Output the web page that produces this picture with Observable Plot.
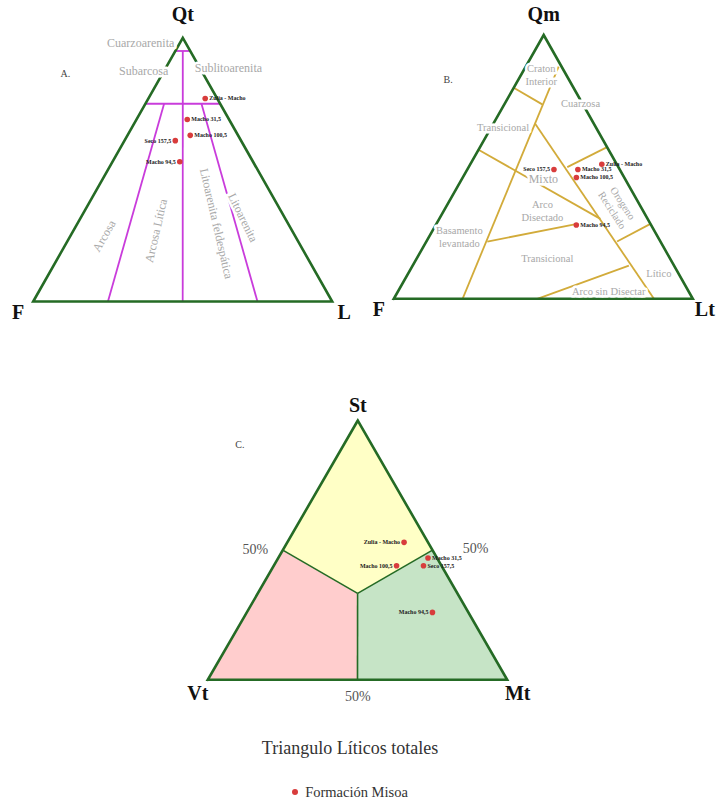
<!DOCTYPE html>
<html><head><meta charset="utf-8">
<script src="https://cdn.jsdelivr.net/npm/d3@7"></script>
<script src="https://cdn.jsdelivr.net/npm/@observablehq/plot@0.6"></script>
<style>
body{margin:0;background:#fff;font-family:"Liberation Serif","Times New Roman",serif;width:718px;}
#chart svg{display:block;}
#title{margin-top:8px;height:20px;line-height:20px;font-size:18px;color:#333;text-align:center;padding-right:18px;}
#legend{margin-top:25px;height:18px;line-height:18px;font-size:14.5px;color:#333;display:flex;justify-content:center;align-items:center;gap:7px;padding-right:18px;}
#legend .dot{display:inline-block;width:6px;height:6px;border-radius:50%;background:#d83c3c;}
</style></head>
<body>
<div id="chart"></div>
<div id="title"></div>
<div id="legend"></div>
<script>
// ---------- data ----------
const chartTitle = "Triangulo Líticos totales";
const legendLabel = "Formación Misoa";
const samples = ["Zulia - Macho", "Macho 31,5", "Macho 100,5", "Seco 157,5", "Macho 94,5"];

// A. Qt - F - L (Folk)
const qtflQt = [77, 69, 63, 61, 53];
const qtflF  = [4, 14, 16, 22, 24.5];
const qtflL  = [19, 17, 21, 17, 22.5];
const labelSideA = ["right", "right", "right", "left", "left"];

// B. Qm - F - Lt (Dickinson)
const qmfltQm = [51, 49, 46, 49, 28];
const qmfltF  = [5, 14, 16, 22, 25];
const qmfltLt = [44, 37, 38, 29, 47];
const labelSideB = ["right", "right", "right", "left", "right"];

// C. St - Vt - Mt
const stvtmtSt = [53, 47, 44, 44, 26];
const stvtmtVt = [8, 3, 15, 6, 12];
const stvtmtMt = [39, 50, 41, 50, 62];
const labelSideC = ["left", "right", "left", "right", "left"];

// corner names
const cornersA = ["Qt", "F", "L"];
const cornersB = ["Qm", "F", "Lt"];
const cornersC = ["St", "Vt", "Mt"];
const panelNames = ["A.", "B.", "C."];

// Folk field boundaries (Qt,F,L -> Qt,F,L)
const folkLines = [
  [95, 5, 0, 95, 0, 5],
  [75, 25, 0, 75, 0, 25],
  [95, 2.5, 2.5, 0, 50, 50],
  [75, 18.75, 6.25, 0, 75, 25],
  [75, 6.25, 18.75, 0, 25, 75]
];
const folkNames = ["Cuarzoarenita", "Subarcosa", "Sublitoarenita", "Arcosa", "Arcosa Lítica", "Litoarenita feldespática", "Litoarenita"];
const folkPos = [[98.2, 15, -13.2], [87.6, 19.3, -6.9], [88.7, -9.6, 20.9], [25, 64, 11], [26.9, 45.7, 27.4], [29.6, 23.7, 46.7], [31.9, 13.7, 54.4]];
const folkRot = [0, 0, 0, -60, -77, 77, 64];

// Dickinson field boundaries (Qm,F,Lt -> Qm,F,Lt)
const dickLines = [
  [88, 1, 11, 0, 77, 23],
  [80, 20, 0, 73.7, 13.6, 12.7],
  [56.5, 43.5, 0, 30.3, 15.8, 53.9],
  [66.3, 19.6, 14.1, 0, 13, 87],
  [49.9, 17.1, 33, 57.5, 0, 42.5],
  [21.7, 57.9, 20.4, 28.4, 24.5, 47.1],
  [21.7, 14.5, 63.8, 28.4, 0, 71.6],
  [0, 52, 48, 12.6, 15.1, 72.3]
];
const dickNames = ["Craton\nInterior", "Cuarzosa", "Transicional", "Mixto", "Arco\nDisectado", "Orogeno\nReciclado", "Basamento\nlevantado", "Transicional", "Lítico", "Arco sin Disectar"];
const dickPos = [[85, 8.3, 6.7], [74.1, 0.6, 25.3], [65.3, 30.9, 3.8], [45.5, 27.3, 27.2], [33.5, 33.6, 32.9], [35, 7.6, 57.4], [23.6, 66.3, 10.1], [15.4, 41, 43.6], [9.7, 6.5, 83.8], [3.1, 26.6, 70.3]];
const dickRot = [0, 0, 0, 0, 0, 57, 0, 0, 0, 0];

// St-Vt-Mt fields (St,Vt,Mt vertices)
const third = 100 / 3;
const fieldNames = ["St", "Vt", "Mt"];
const fieldVerts = [
  [[100, 0, 0], [50, 50, 0], [third, third, third], [50, 0, 50]],
  [[50, 50, 0], [0, 100, 0], [0, 50, 50], [third, third, third]],
  [[50, 0, 50], [third, third, third], [0, 50, 50], [0, 0, 100]]
];
const fieldBounds = [[third, third, third, 50, 50, 0], [third, third, third, 50, 0, 50], [third, third, third, 0, 50, 50]];
const pctLabels = ["50%", "50%", "50%"];
const pctPos = [[50.3, 59, -9.3], [50.6, -14.7, 64.1], [-6.4, 53.1, 53.3]];

// ---------- layout / style ----------
const W = 718, H = 730;
const frames = {
  A: {top: [182.3, 37.3], left: [32.7, 301], right: [331.7, 301]},
  B: {top: [543.2, 34.5], left: [393.3, 298.3], right: [692.3, 298.3]},
  C: {top: [357.3, 420], left: [207.3, 679.3], right: [506.7, 679.3]}
};
const fieldColors = ["#ffffc6", "#ffcdcd", "#c6e4c6"];
const edgeColor = "#256b25";
const folkColor = "#c93cdb";
const dickColor = "#d2ab3a";
const regionText = "#a8a8a8";
const ptColor = "#d83c3c";

function tern(f, a, b, c) {
  const s = a + b + c; a /= s; b /= s; c /= s;
  return {x: a * f.top[0] + b * f.left[0] + c * f.right[0],
          y: a * f.top[1] + b * f.left[1] + c * f.right[1]};
}

const marks = [];

// C fields
fieldVerts.forEach((vs, i) => {
  const rows = vs.map(v => tern(frames.C, ...v));
  marks.push(Plot.line(rows, {x: "x", y: "y", fill: fieldColors[i], stroke: "none"}));
});
marks.push(Plot.link(fieldBounds.map(l => {
  const p = tern(frames.C, l[0], l[1], l[2]), q = tern(frames.C, l[3], l[4], l[5]);
  return {x1: p.x, y1: p.y, x2: q.x, y2: q.y};
}), {x1: "x1", y1: "y1", x2: "x2", y2: "y2", stroke: edgeColor, strokeWidth: 1.6}));

// A and B field lines
function linkRows(f, lines) {
  return lines.map(l => {
    const p = tern(f, l[0], l[1], l[2]), q = tern(f, l[3], l[4], l[5]);
    return {x1: p.x, y1: p.y, x2: q.x, y2: q.y};
  });
}
marks.push(Plot.link(linkRows(frames.A, folkLines), {x1: "x1", y1: "y1", x2: "x2", y2: "y2", stroke: folkColor, strokeWidth: 1.8}));
marks.push(Plot.link(linkRows(frames.B, dickLines), {x1: "x1", y1: "y1", x2: "x2", y2: "y2", stroke: dickColor, strokeWidth: 1.8}));

// triangle outlines
["A", "B", "C"].forEach(k => {
  const f = frames[k];
  const rows = [tern(f, 100, 0, 0), tern(f, 0, 100, 0), tern(f, 0, 0, 100), tern(f, 100, 0, 0), tern(f, 0, 100, 0)];
  marks.push(Plot.line(rows, {x: "x", y: "y", stroke: edgeColor, strokeWidth: 2.6, strokeLinejoin: "miter", strokeMiterlimit: 10}));
});

// region labels (with white halo)
const regionRows = [];
folkNames.forEach((n, i) => regionRows.push({...tern(frames.A, ...folkPos[i]), text: n, rot: folkRot[i], size: 12}));
dickNames.forEach((n, i) => regionRows.push({...tern(frames.B, ...dickPos[i]), text: n, rot: dickRot[i], size: n === "Mixto" ? 12 : 10.5}));
marks.push(Plot.text(regionRows, {x: "x", y: "y", text: "text", rotate: d => d.rot, fontSize: d => d.size,
  fill: regionText, stroke: "white", strokeWidth: 5, lineHeight: 1.22}));

// panel letters
const panelRows = [
  {...tern(frames.A, 86.5, 46, -32.5), text: panelNames[0]},
  {...tern(frames.B, 83.1, 40.4, -23.5), text: panelNames[1]},
  {...tern(frames.C, 90.6, 44.1, -34.7), text: panelNames[2]}
];
marks.push(Plot.text(panelRows, {x: "x", y: "y", text: "text", fontSize: 10, fill: "#444"}));

// percent labels
marks.push(Plot.text(pctLabels.map((t, i) => ({...tern(frames.C, ...pctPos[i]), text: t})),
  {x: "x", y: "y", text: "text", fontSize: 14, fill: "#555"}));

// points
const pts = [];
samples.forEach((s, i) => {
  pts.push({...tern(frames.A, qtflQt[i], qtflF[i], qtflL[i]), label: s, side: labelSideA[i]});
  pts.push({...tern(frames.B, qmfltQm[i], qmfltF[i], qmfltLt[i]), label: s, side: labelSideB[i]});
  pts.push({...tern(frames.C, stvtmtSt[i], stvtmtVt[i], stvtmtMt[i]), label: s, side: labelSideC[i]});
});
marks.push(Plot.dot(pts, {x: "x", y: "y", r: 2.8, fill: ptColor, stroke: "none"}));
marks.push(Plot.text(pts.filter(d => d.side === "right"), {x: "x", y: "y", text: "label", textAnchor: "start", dx: 4, fontSize: 6, fontWeight: "bold", fill: "#222"}));
marks.push(Plot.text(pts.filter(d => d.side === "left"), {x: "x", y: "y", text: "label", textAnchor: "end", dx: -4, fontSize: 6, fontWeight: "bold", fill: "#222"}));

// corner labels
const cornerRows = [];
[["A", cornersA, -23], ["B", cornersB, -20], ["C", cornersC, -15]].forEach(([k, names, topDy]) => {
  const f = frames[k];
  const bdy = k === "C" ? 14 : 11;
  cornerRows.push({...tern(f, 100, 0, 0), text: names[0], dx: 0, dy: topDy});
  cornerRows.push({...tern(f, 0, 100, 0), text: names[1], dx: k === "C" ? -10 : -15, dy: bdy});
  cornerRows.push({...tern(f, 0, 0, 100), text: names[2], dx: k === "C" ? 10.5 : 12, dy: bdy});
});
cornerRows.forEach(d => {
  marks.push(Plot.text([d], {x: "x", y: "y", text: "text", dx: d.dx, dy: d.dy, fontSize: 20, fontWeight: "bold", fill: "#111"}));
});

const chart = Plot.plot({
  width: W, height: H, margin: 0,
  x: {domain: [0, W], range: [0, W], axis: null},
  y: {domain: [0, H], range: [0, H], axis: null},
  style: {background: "white", fontFamily: "'Liberation Serif','Times New Roman',serif", overflow: "visible"},
  marks
});
document.getElementById("chart").appendChild(chart);
document.getElementById("title").textContent = chartTitle;
const lg = document.getElementById("legend");
const dot = document.createElement("span"); dot.className = "dot";
const lt = document.createElement("span"); lt.textContent = legendLabel;
lg.appendChild(dot); lg.appendChild(lt);
</script>
</body></html>
